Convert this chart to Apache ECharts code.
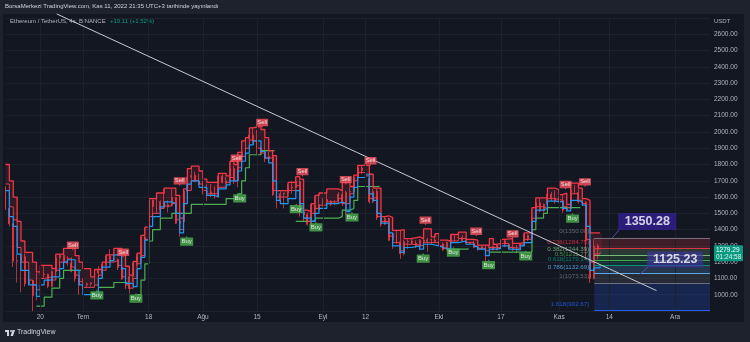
<!DOCTYPE html>
<html><head><meta charset="utf-8">
<script src="https://cdn.jsdelivr.net/npm/echarts@6/dist/echarts.min.js"></script>
<style>html,body{margin:0;padding:0;background:#1e222d;}#c{width:750px;height:342px;}</style>
</head><body><div id="c"></div>
<script>
// day index 0 = 11 Jun 2022
const tickDays   = [9, 20, 37, 51, 65, 82, 93, 112, 128, 143, 156, 173];
const tickLabels = ['20','Tem','18','Ağu','15','Eyl','12','Eki','17','Kas','14','Ara'];
const priceTicks = [1000,1100,1200,1300,1400,1500,1600,1700,1800,1900,2000,2100,2200,2300,2400,2500,2600];

// daily [open, close, low, high]
const candles = [
[1662,1530,1520,1668],[1530,1435,1420,1545],[1435,1206,1170,1440],[1206,1210,1075,1248],[1210,1234,1015,1245],
[1234,1067,1050,1254],[1067,1087,1058,1120],[1087,994,900,1090],[994,1127,965,1137],[1127,1127,1075,1160],
[1127,1125,1105,1180],[1125,1052,1040,1130],[1052,1143,1045,1150],[1143,1225,1120,1235],[1225,1243,1180,1250],
[1243,1200,1195,1280],[1200,1193,1178,1237],[1193,1144,1138,1230],[1144,1098,1080,1150],[1098,1067,1000,1100],
[1067,1060,1035,1100],[1060,1068,1042,1075],[1068,1074,1050,1077],[1074,1150,1064,1152],[1150,1134,1090,1175],
[1134,1186,1112,1195],[1186,1237,1180,1240],[1237,1216,1200,1280],[1216,1217,1205,1228],[1217,1167,1152,1222],
[1167,1097,1090,1170],[1097,1038,1036,1110],[1038,1112,1006,1118],[1112,1192,1078,1200],[1192,1233,1176,1250],
[1233,1354,1190,1358],[1354,1339,1333,1410],[1339,1581,1335,1585],[1581,1542,1470,1585],[1542,1522,1500,1620],
[1522,1572,1465,1580],[1572,1538,1535,1650],[1538,1552,1505,1580],[1552,1598,1545,1650],[1598,1439,1435,1600],
[1439,1450,1356,1465],[1450,1636,1444,1645],[1636,1723,1604,1770],[1723,1733,1697,1785],[1733,1695,1692,1755],
[1695,1680,1673,1745],[1680,1631,1616,1700],[1631,1632,1575,1680],[1632,1619,1600,1680],[1619,1607,1590,1665],
[1607,1730,1605,1735],[1730,1690,1685,1746],[1690,1700,1680,1724],[1700,1775,1696,1815],[1775,1700,1680,1792],
[1700,1850,1660,1870],[1850,1877,1850,1942],[1877,1957,1860,1960],[1957,1981,1950,2020],[1981,1937,1930,2030],
[1937,1899,1860,2012],[1899,1878,1860,1910],[1878,1834,1815,1960],[1834,1849,1820,1880],[1849,1614,1607,1850],
[1614,1576,1530,1630],[1576,1620,1565,1635],[1620,1625,1530,1628],[1625,1662,1575,1680],[1662,1657,1620,1700],
[1657,1696,1655,1720],[1696,1509,1480,1705],[1509,1492,1450,1515],[1492,1433,1425,1505],[1433,1553,1422,1557],
[1553,1524,1480,1605],[1524,1554,1520,1620],[1554,1585,1540,1595],[1585,1575,1550,1645],[1575,1556,1545,1580],
[1556,1578,1550,1580],[1578,1617,1560,1630],[1617,1560,1545,1685],[1560,1630,1490,1640],[1630,1635,1600,1660],
[1635,1717,1627,1730],[1717,1779,1707,1788],[1779,1762,1741,1790],[1762,1716,1705,1790],[1716,1571,1560,1735],
[1571,1636,1562,1650],[1636,1472,1459,1650],[1472,1433,1417,1478],[1433,1469,1430,1480],[1469,1335,1330,1473],
[1335,1376,1282,1380],[1376,1324,1312,1392],[1324,1252,1220,1397],[1252,1327,1242,1338],[1327,1329,1280,1340],
[1329,1317,1310,1350],[1317,1294,1287,1334],[1294,1335,1273,1342],[1335,1328,1315,1400],[1328,1338,1265,1350],
[1338,1336,1307,1345],[1336,1328,1320,1370],[1328,1311,1305,1330],[1311,1276,1270,1320],[1276,1323,1271,1325],
[1323,1362,1320,1365],[1362,1352,1327,1364],[1352,1351,1347,1380],[1351,1331,1326,1366],[1331,1322,1315,1335],
[1322,1315,1311,1326],[1315,1292,1290,1333],[1292,1280,1271,1298],[1280,1295,1278,1304],[1295,1288,1190,1300],
[1288,1297,1282,1340],[1297,1275,1272,1302],[1275,1306,1274,1312],[1306,1331,1297,1335],[1331,1310,1292,1340],
[1310,1286,1281,1313],[1286,1282,1269,1311],[1282,1299,1255,1305],[1299,1314,1296,1318],[1314,1364,1307,1375],
[1364,1344,1330,1370],[1344,1460,1340,1530],[1460,1564,1455,1588],[1564,1515,1506,1590],[1515,1556,1505,1560],
[1556,1618,1551,1650],[1618,1589,1575,1630],[1589,1572,1560,1640],[1572,1578,1566,1608],[1578,1519,1503,1620],
[1519,1530,1512,1550],[1530,1645,1528,1680],[1645,1628,1620,1675],[1628,1570,1560,1648],[1570,1568,1545,1585],
[1568,1333,1215,1575],[1333,1100,1072,1340],[1100,1300,1095,1345],[1300,1279,1220,1310]
];

// indicator step lines [day, price]
const redUpper = [[0,1800],[1,1700],[2,1600],[3,1450],[4,1330],[5,1260],[7,1200],[8,1140],[9,1180],[12,1160],[13,1250],[15,1285],[17,1285],[18,1240],[19,1200],[20,1160],[22,1110],[23,1155],[25,1200],[26,1245],[28,1285],[30,1250],[31,1175],[32,1120],[33,1205],[34,1255],[35,1365],[36,1415],[37,1590],[39,1625],[41,1655],[43,1655],[44,1610],[45,1470],[46,1650],[47,1775],[48,1790],[50,1760],[51,1710],[52,1690],[55,1745],[57,1730],[58,1820],[59,1800],[60,1875],[61,1945],[62,1965],[63,2025],[64,2035],[66,2015],[67,1965],[68,1885],[69,1855],[70,1640],[71,1640],[73,1690],[75,1725],[76,1710],[77,1520],[78,1510],[79,1560],[80,1610],[81,1625],[83,1650],[86,1640],[87,1690],[89,1665],[90,1735],[91,1795],[94,1740],[95,1655],[96,1655],[97,1480],[98,1485],[99,1475],[100,1395],[102,1400],[103,1345],[105,1355],[107,1345],[108,1405],[110,1355],[111,1375],[112,1335],[114,1330],[115,1370],[117,1385],[119,1340],[121,1335],[122,1305],[124,1305],[125,1345],[126,1310],[127,1315],[128,1340],[129,1345],[131,1315],[133,1320],[134,1380],[136,1535],[137,1595],[140,1655],[142,1645],[143,1615],[144,1625],[145,1555],[146,1685],[148,1655],[149,1590],[150,1580],[151,1380],[153.6,1380]];
const redLower = [[0,1680],[1,1540],[2,1460],[3,1290],[4,1200],[6,1090],[7,1060],[8,1030],[9,1100],[10,1110],[12,1090],[13,1150],[14,1200],[16,1220],[17,1170],[18,1120],[19,1080],[20,1045],[23,1060],[24,1120],[25,1150],[26,1200],[28,1210],[29,1180],[30,1110],[31,1060],[32,1040],[33,1100],[34,1190],[35,1240],[36,1340],[37,1480],[38,1500],[40,1530],[41,1545],[43,1560],[44,1460],[45,1400],[46,1560],[47,1640],[48,1700],[50,1680],[51,1640],[52,1620],[55,1660],[57,1690],[58,1720],[59,1700],[60,1780],[61,1850],[62,1900],[63,1950],[64,1940],[65,1900],[66,1870],[67,1840],[69,1640],[70,1600],[71,1600],[73,1640],[75,1670],[76,1530],[77,1470],[78,1450],[79,1500],[80,1530],[81,1550],[83,1570],[86,1590],[87,1560],[88,1560],[89,1620],[90,1700],[91,1750],[93,1730],[94,1590],[95,1600],[96,1480],[97,1450],[99,1360],[100,1320],[102,1270],[103,1310],[105,1305],[107,1300],[108,1320],[110,1320],[112,1300],[113,1285],[115,1330],[117,1345],[119,1320],[121,1300],[122,1285],[124,1270],[125,1290],[127,1290],[128,1315],[130,1290],[131,1285],[133,1305],[134,1340],[136,1470],[137,1540],[139,1530],[140,1590],[142,1580],[144,1540],[145,1530],[146,1620],[148,1580],[149,1560],[150,1340],[151,1200],[152,1250],[153.6,1260]];
const blueLine = [[0,1640],[1,1480],[2,1420],[3,1250],[4,1150],[6,1060],[8,990],[9,1060],[10,1090],[12,1110],[14,1160],[15,1200],[16,1215],[18,1150],[19,1060],[20,1000],[23,1000],[24,1100],[25,1170],[27,1210],[28,1245],[30,1160],[31,1070],[33,1050],[34,1160],[35,1230],[36,1335],[37,1420],[38,1480],[40,1540],[41,1570],[43,1560],[44,1500],[45,1380],[46,1560],[47,1680],[48,1700],[50,1660],[52,1610],[54,1600],[55,1650],[57,1675],[58,1700],[60,1760],[61,1820],[62,1870],[63,1920],[64,1945],[66,1880],[67,1840],[68,1810],[69,1700],[70,1580],[71,1560],[73,1590],[75,1640],[76,1560],[77,1470],[79,1450],[80,1500],[81,1530],[83,1560],[86,1570],[87,1560],[88,1510],[89,1600],[90,1660],[91,1720],[93,1740],[94,1620],[95,1580],[96,1500],[97,1440],[99,1380],[100,1300],[102,1260],[103,1290],[105,1300],[107,1280],[108,1310],[110,1300],[112,1290],[113,1280],[115,1320],[117,1330],[119,1310],[121,1295],[122,1280],[124,1240],[125,1280],[127,1285],[128,1300],[130,1280],[131,1275],[133,1300],[134,1320],[136,1450],[137,1520],[139,1530],[140,1575],[142,1570],[144,1530],[145,1515],[146,1580],[148,1570],[149,1550],[150,1420],[151,1150],[152,1165],[153.6,1175]];
const greenLine = [[8,930],[10,985],[12,1040],[14,1100],[15,1150],[19.5,1150],[19.6,null],[24,1045],[28,1075],[31.5,1075],[31.6,null],[34,1000],[35,1090],[36,1190],[37,1330],[38,1400],[40,1470],[43,1500],[47,1500],[48,1555],[56,1555],[57,1590],[60,1620],[61,1700],[62,1780],[63,1860],[66,1885],[69.5,1885],[69.6,null],[75,1450],[79,1455],[80,1470],[86,1480],[87,1520],[89,1530],[90,1580],[91,1665],[96.5,1670],[96.6,null],[114,1280],[119.5,1285],[119.6,null],[125,1262],[135,1262],[136,1400],[137,1470],[139,1500],[140,1535],[148.5,1535],[148.6,null]];

const sellSignals = [[17.4,1299],[30.4,1256],[45.0,1694],[59.7,1834],[66.3,2053],[76.7,1751],[87.9,1702],[94.3,1818],[108.5,1453],[121.6,1385],[131.0,1369],[144.7,1672],[149.7,1688]];
const buySignals  = [[23.6,1002],[33.7,982],[46.8,1332],[60.5,1598],[75.1,1531],[80.2,1419],[89.5,1480],[107.9,1227],[115.7,1264],[124.8,1187],[134.4,1241],[146.5,1473]];

const trendLine = [[13.23,2725],[168.2,1025]];

const fibRatios = [0, 0.236, 0.382, 0.5, 0.618, 0.786, 1, 1.618];
const fibPrices = [1350.00, 1284.75, 1244.39, 1211.77, 1179.14, 1132.69, 1073.53, 902.67];
const fibStart = 152.1, fibEnd = 182;

const calloutTexts  = ['1350.28', '1125.23'];
const calloutAnchor = [[165.8,1450],[173.0,1216]];
const calloutTarget = [[[158.5,1397],[156.7,1348]], [[166.0,1170],[163.9,1127]]];

const lastPrice = 1279.29, countdown = '01:24:58';

const FONT = 'Liberation Sans, Arial, sans-serif';
const fibColors = ['#787b86','#f23645','#81c784','#4caf50','#089981','#64b5f6','#787b86','#2962ff'];
function rgba(hex,a){const n=parseInt(hex.slice(1),16);return `rgba(${n>>16},${(n>>8)&255},${n&255},${a})`;}
function stepAt(arr, d){ let v = null; for (const p of arr){ if (p[0] <= d) v = p[1]; else break; } return v; }

const chart = echarts.init(document.getElementById('c'), null, {renderer:'canvas'});

const fibLines = fibPrices.map((p,i)=>[
  {coord:[fibStart,p], lineStyle:{color:rgba(fibColors[i],0.9)}},
  {coord:[fibEnd,p]}
]);
const fibAreas = fibPrices.slice(0,-1).map((p,i)=>[
  {coord:[fibStart,p], itemStyle:{color:rgba(fibColors[i+1],0.2)}},
  {coord:[fibEnd,fibPrices[i+1]]}
]);

const SELL_PATH = 'path://M1,0 H29 Q30,0 30,1 V17 Q30,18 29,18 H17 L15,22 L13,18 H1 Q0,18 0,17 V1 Q0,0 1,0 Z';
const BUY_PATH  = 'path://M15,0 L17,4 H29 Q30,4 30,5 V21 Q30,22 29,22 H1 Q0,22 0,21 V5 Q0,4 1,4 H13 Z';

// band between the two red lines, one slice per day
const bandDays = candles.map((c,i)=>[i]);

const option = {
  backgroundColor: 'transparent',
  animation: false,
  grid: {left: 5.5, right: 40, top: 18, bottom: 31},
  xAxis: {
    type: 'value', min: 0, max: 182, interval: 1,
    axisLine: {show:false}, axisTick: {show:false}, splitLine: {show:false},
    axisLabel: {color:'#b2b5be', fontSize:6.5, fontFamily:FONT, margin:3,
      formatter: v => { const i = tickDays.indexOf(v); return i>=0 ? tickLabels[i] : ''; }}
  },
  yAxis: {
    type: 'value', position: 'right', min: 900, max: 2700, interval: 100,
    axisLine: {show:false}, axisTick: {show:false},
    splitLine: {lineStyle:{color:'#1d212c', width:1}},
    axisLabel: {color:'#b2b5be', fontSize:6.5, fontFamily:FONT, margin:4,
      formatter: v => priceTicks.indexOf(v)>=0 ? v.toFixed(2) : ''}
  },
  series: [
    { type:'line', data:[], silent:true,
      markLine:{symbol:'none', silent:true, lineStyle:{color:'#1d212c', type:'solid', width:1}, label:{show:false},
        data: tickDays.map(d=>({xAxis:d}))}},
    { type:'line', data:[], silent:true,
      markArea:{silent:true, data: fibAreas},
      markLine:{symbol:'none', silent:true, lineStyle:{width:1, type:'solid'}, label:{show:false}, data: fibLines}},
    { type:'scatter', silent:true, symbolSize:0, z:5,
      data: fibPrices.map((p,i)=>({value:[fibStart,p], label:{color:fibColors[i], formatter: fibRatios[i]+'('+p.toFixed(2)+')'}})),
      label:{show:true, position:'left', distance:5, offset:[0,-6], fontSize:6.2, fontFamily:FONT}},
    { type:'custom', silent:true, z:1, data: bandDays, encode:{x:0},
      renderItem: (params, api) => {
        const d = api.value(0);
        const up = stepAt(redUpper, d), lo = stepAt(redLower, d);
        if (up == null || lo == null) return;
        const a = api.coord([d, Math.max(up,lo)]), b = api.coord([d+1, Math.min(up,lo)]);
        return {type:'rect', shape:{x:a[0], y:a[1], width:b[0]-a[0]+0.3, height:b[1]-a[1]},
                style:{fill:'rgba(242,54,69,0.13)'}};
      }},
    { type:'candlestick', data: candles.map((c,i)=>[i,c[0],c[1],c[2],c[3]]),
      encode:{x:0, y:[1,2,3,4]}, barWidth: 1.4,
      itemStyle:{color:'#c9414d', color0:'#f23645', borderColor:'#c9414d', borderColor0:'#f23645', borderWidth:0.8}, z:2},
    { type:'line', data: greenLine, step:'end', showSymbol:false, connectNulls:false,
      lineStyle:{color:'#4caf50', width:1.2}, z:3},
    { type:'line', data: redLower, step:'end', showSymbol:false,
      lineStyle:{color:'#e0424f', width:1}, z:3},
    { type:'line', data: redUpper, step:'end', showSymbol:false,
      lineStyle:{color:'#f23645', width:1.3}, z:3},
    { type:'line', data: blueLine, step:'end', showSymbol:false,
      lineStyle:{color:'#2196f3', width:1.2}, z:4},
    { type:'line', data: trendLine, showSymbol:false, clip:false,
      lineStyle:{color:'#c8cad0', width:1}, z:6},
    { type:'scatter', data: sellSignals, symbol: SELL_PATH, symbolSize:[12,9],
      itemStyle:{color:'#f7525f'}, z:7,
      label:{show:true, position:'inside', formatter:'Sell', color:'#fff', fontSize:5.8, fontFamily:FONT, offset:[0,-1]}},
    { type:'scatter', data: buySignals, symbol: BUY_PATH, symbolSize:[13,10],
      itemStyle:{color:'#4caf50'}, z:7,
      label:{show:true, position:'inside', formatter:'Buy', color:'#fff', fontSize:6, fontFamily:FONT, offset:[0,1]}},
    { type:'line', data: calloutTarget[0], showSymbol:false, lineStyle:{color:'#5a4bb0', width:1}, z:8, clip:false},
    { type:'line', data: calloutTarget[1], showSymbol:false, lineStyle:{color:'#5a4bb0', width:1}, z:8, clip:false},
    { type:'scatter', data: calloutAnchor.map((a,i)=>({value:a, itemStyle:{color: i===0?'rgba(52,32,150,0.95)':'rgba(64,52,160,0.8)'},
        symbolSize: i===0?[58,17]:[56,16], label:{formatter: calloutTexts[i]}})),
      symbol:'rect', z:9, clip:false,
      label:{show:true, position:'inside', color:'#fff', fontSize:12.5, fontWeight:'bold', fontFamily:FONT}}
  ]
};
chart.setOption(option);

const py = chart.convertToPixel({yAxisIndex:0}, lastPrice);
chart.setOption({graphic: [
  {type:'rect', z:-10, silent:true, shape:{x:3, y:14, width:741, height:308}, style:{fill:'#131722'}},
  {type:'text', left:5, top:3, style:{text:'BorsaMerkezi TradingView.com, Kas 11, 2022 21:35 UTC+3 tarihinde yayınlandı', fill:'#d1d4dc', font:'6px '+FONT}},
  {type:'text', left:10, top:18, style:{text:'Ethereum / TetherUS, 4s, BINANCE', fill:'#b2b5be', font:'6px '+FONT}},
  {type:'text', left:110, top:18, style:{text:'+19.11 (+1.52%)', fill:'#089981', font:'6px '+FONT}},
  {type:'text', left:714, top:18, style:{text:'USDT', fill:'#b2b5be', font:'6px '+FONT}},
  {type:'rect', shape:{x:714, y:py-4, width:29, height:16, r:1}, style:{fill:'#089981'}, z:20},
  {type:'text', x:716, y:py-3, style:{text:lastPrice.toFixed(2), fill:'#fff', font:'6.5px '+FONT}, z:21},
  {type:'text', x:716, y:py+4.5, style:{text:countdown, fill:'#e0f2ef', font:'6.5px '+FONT}, z:21},
  {type:'group', x:5, y:330, children:[
    {type:'rect', shape:{x:0,y:0,width:4,height:2}, style:{fill:'#d1d4dc'}},
    {type:'rect', shape:{x:2,y:0,width:2,height:6}, style:{fill:'#d1d4dc'}},
    {type:'circle', shape:{cx:6,cy:1,r:1}, style:{fill:'#d1d4dc'}},
    {type:'polygon', shape:{points:[[7.5,0],[10,0],[8,6],[5.5,6]]}, style:{fill:'#d1d4dc'}}
  ]},
  {type:'text', left:17, top:329, style:{text:'TradingView', fill:'#d1d4dc', font:'7px '+FONT}}
]});
</script></body></html>
